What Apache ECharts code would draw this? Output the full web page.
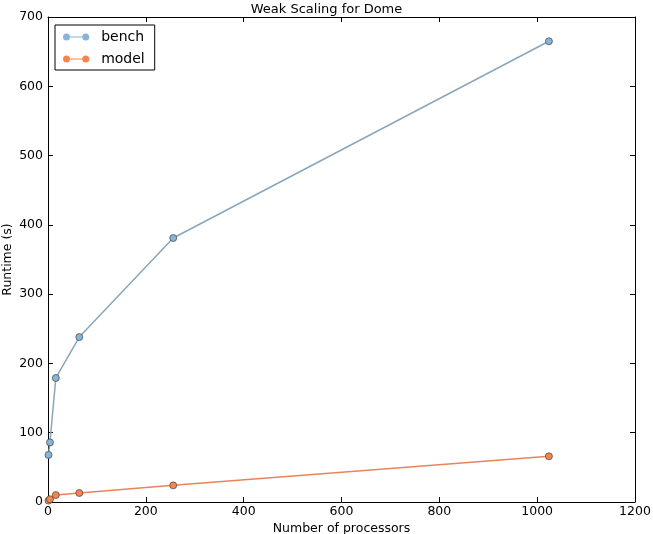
<!DOCTYPE html>
<html><head><meta charset="utf-8">
<script src="https://cdn.jsdelivr.net/npm/echarts@6/dist/echarts.min.js"></script>
<style>html,body{margin:0;padding:0;background:#fff}#c{width:653px;height:534px}</style>
</head><body><div id="c"></div>
<script>
const procs = [1, 4, 16, 64, 256, 1024];
const bench = [68, 86, 179, 238, 381, 665];
const model = [2, 4, 10, 13, 24, 66];
const xTicks = [0, 200, 400, 600, 800, 1000, 1200];
const yTicks = [0, 100, 200, 300, 400, 500, 600, 700];

const chart = echarts.init(document.getElementById('c'));
const font = 'DejaVu Sans';
const fs = 12.5;
const axLine = {show: true, onZero: false, lineStyle: {color: '#000', width: 1}};
const tick = {inside: true, length: 5, lineStyle: {color: '#000'}};
const legendIcon = 'path://M0,4 A4,4 0 1 1 8,4 A4,4 0 1 1 0,4 Z M22,4 A4,4 0 1 1 30,4 A4,4 0 1 1 22,4 Z M8,3.5 L22,3.5 L22,4.5 L8,4.5 Z';
chart.setOption({
  animation: false,
  textStyle: {fontFamily: font},
  title: {text: 'Weak Scaling for Dome', left: 'center', top: -2,
    textStyle: {fontFamily: font, fontSize: 13, fontWeight: 'normal', color: '#000'}},
  grid: {left: 48, right: 18, top: 17, bottom: 32, outerBoundsMode: 'none', containLabel: false},
  legend: {
    left: 55, top: 25, orient: 'vertical', itemGap: 8, itemWidth: 28, itemHeight: 7,
    padding: [5, 10, 4, 8], borderColor: '#000', borderWidth: 1, borderRadius: 0,
    itemStyle: {borderWidth: 0},
    textStyle: {fontFamily: font, fontSize: 14, color: '#000', padding: [0, 0, 0, 6]},
    data: [{name: 'bench', icon: legendIcon}, {name: 'model', icon: legendIcon}]
  },
  xAxis: [{
    type: 'value', min: 0, max: 1200, interval: 200,
    name: 'Number of processors', nameLocation: 'middle', nameGap: 20, nameMoveOverlap: false,
    nameTextStyle: {fontFamily: font, fontSize: fs, color: '#000'},
    axisLine: axLine, axisTick: tick,
    axisLabel: {fontFamily: font, fontSize: fs, color: '#000', margin: 3, formatter: v => String(v)},
    splitLine: {show: false}
  }, {
    type: 'value', position: 'top', min: 0, max: 1200, interval: 200,
    axisLine: axLine, axisTick: tick,
    axisLabel: {show: false}, splitLine: {show: false}
  }],
  yAxis: [{
    type: 'value', min: 0, max: 700, interval: 100,
    name: 'Runtime (s)', nameLocation: 'middle', nameGap: 34, nameRotate: 90, nameMoveOverlap: false,
    nameTextStyle: {fontFamily: font, fontSize: fs, color: '#000'},
    axisLine: axLine, axisTick: tick,
    axisLabel: {fontFamily: font, fontSize: fs, color: '#000', margin: 5, formatter: v => String(v)},
    splitLine: {show: false}
  }, {
    type: 'value', position: 'right', min: 0, max: 700, interval: 100,
    axisLine: axLine, axisTick: tick,
    axisLabel: {show: false}, splitLine: {show: false}
  }],
  series: [{
    name: 'bench', type: 'line', data: procs.map((p, i) => [p, bench[i]]),
    symbol: 'circle', symbolSize: 7,
    lineStyle: {color: '#8aa6ba', width: 1.5},
    itemStyle: {color: '#86b5d8', borderColor: '#444', borderWidth: 0.7}
  }, {
    name: 'model', type: 'line', data: procs.map((p, i) => [p, model[i]]),
    symbol: 'circle', symbolSize: 7,
    lineStyle: {color: '#e8845a', width: 1.5},
    itemStyle: {color: '#f5854f', borderColor: '#444', borderWidth: 0.7}
  }]
});
</script></body></html>
